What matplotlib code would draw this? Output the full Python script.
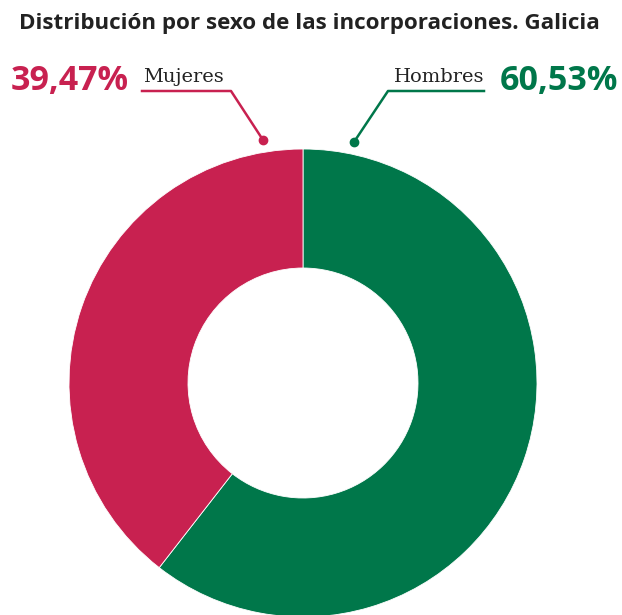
import matplotlib.pyplot as plt

# data
labels = ["Hombres", "Mujeres"]
values = [60.53, 39.47]
pct_text = ["60,53%", "39,47%"]
colors = ["#00774A", "#C82150"]
title = "Distribución por sexo de las incorporaciones. Galicia"

W, H = 622, 615
fig = plt.figure(figsize=(W / 100, H / 100), dpi=100)
ax = fig.add_axes([0, 0, 1, 1])

# donut (pixel coords, y measured from the bottom)
cx, cy, r = 303, H - 383, 234
ax.pie(values, colors=colors, startangle=90, counterclock=False,
       center=(cx, cy), radius=r, frame=True,
       wedgeprops=dict(width=119, linewidth=0.6, edgecolor="white"))
ax.set_xlim(0, W)
ax.set_ylim(0, H)
ax.set_aspect("equal")
ax.axis("off")

ax.text(19, H - 29, title, fontsize=16.1, fontweight="bold", family="Open Sans",
        color="#222222", va="baseline", ha="left")

# Mujeres annotation
ax.text(129, H - 90, pct_text[1], fontsize=24.5, fontweight="bold", family="Open Sans",
        color=colors[1], ha="right", va="baseline")
ax.text(143, H - 82, labels[1], fontsize=14, family="DejaVu Serif",
        color="#222222", ha="left", va="baseline")
ax.plot([142, 231, 263], [H - 91, H - 91, H - 140], color=colors[1], lw=1.8)
ax.plot(263, H - 140, "o", color=colors[1], ms=6)

# Hombres annotation
ax.text(500, H - 90, pct_text[0], fontsize=24.5, fontweight="bold", family="Open Sans",
        color=colors[0], ha="left", va="baseline")
ax.text(484, H - 82, labels[0], fontsize=14, family="DejaVu Serif",
        color="#222222", ha="right", va="baseline")
ax.plot([484, 388, 354], [H - 91, H - 91, H - 142], color=colors[0], lw=1.8)
ax.plot(354, H - 142, "o", color=colors[0], ms=6)

fig.savefig("out.png", dpi=100, facecolor="white")
